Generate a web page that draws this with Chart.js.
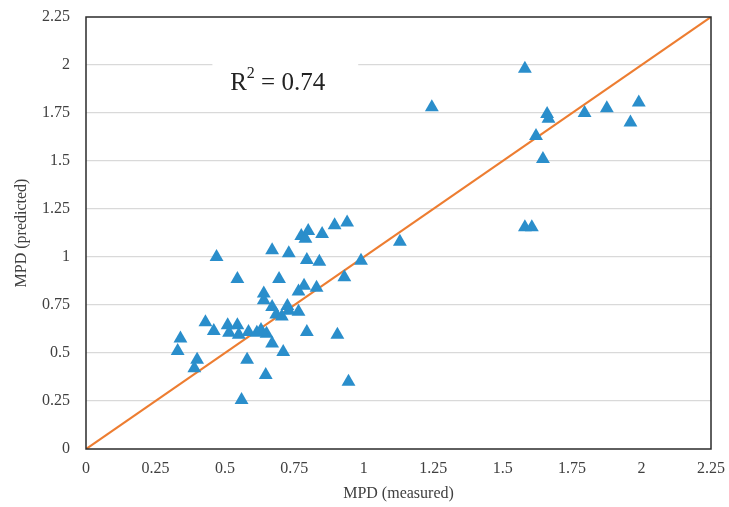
<!DOCTYPE html>
<html>
<head>
<meta charset="utf-8">
<script src="https://cdn.jsdelivr.net/npm/chart.js@4/dist/chart.umd.min.js"></script>
<style>
    html, body { margin: 0; padding: 0; background: #fff; }
    #wrap { width: 729px; height: 507px; }
</style>
</head>
<body>
<div id="wrap"><canvas id="mpdChart"></canvas></div>
<script>
/* ============================================
   DATA
============================================ */
const measured = [
    1.58, 1.245, 1.66, 1.665, 1.62, 1.645, 1.795, 1.875, 1.99, 1.96,
    1.58, 1.605, 1.13, 0.99, 0.94, 0.895, 0.93, 0.905, 0.945, 0.85,
    0.80, 0.775, 0.79, 0.67, 0.73, 0.795, 0.84, 0.695, 0.785, 0.83,
    0.765, 0.64, 0.64, 0.725, 0.67, 0.685, 0.73, 0.765, 0.705, 0.795,
    0.65, 0.67, 0.71, 0.647, 0.47, 0.545, 0.43, 0.46, 0.51, 0.545,
    0.515, 0.55, 0.585, 0.615, 0.63, 0.34, 0.33, 0.40, 0.39, 0.58,
    0.56
];
const predicted = [
    1.98, 1.78, 1.745, 1.72, 1.63, 1.51, 1.75, 1.775, 1.805, 1.70,
    1.155, 1.155, 1.08, 0.98, 1.18, 1.165, 0.895, 0.595, 0.35, 1.12,
    1.135, 1.11, 1.095, 1.035, 1.02, 0.985, 0.975, 0.885, 0.85, 0.84,
    0.82, 0.81, 0.775, 0.745, 0.74, 0.70, 0.72, 0.715, 0.69, 0.61,
    0.60, 0.55, 0.505, 0.385, 1.0, 0.885, 0.66, 0.615, 0.645, 0.645,
    0.605, 0.595, 0.61, 0.605, 0.62, 0.575, 0.51, 0.465, 0.42, 0.465,
    0.255
];
const lineOfEquality = [0, 2.25];
const tickValues = [0, 0.25, 0.5, 0.75, 1, 1.25, 1.5, 1.75, 2, 2.25];
const tickLabels = ['0', '0.25', '0.5', '0.75', '1', '1.25', '1.5', '1.75', '2', '2.25'];
const r2Text = { base: 'R', sup: '2', rest: ' = 0.74', x: 0.69, y: 1.92 };

/* ============================================
   PLUGINS
============================================ */
const serif = "'Liberation Serif', 'Times New Roman', serif";
const textColor = '#404040';

const plotBox = {
    id: 'plotBox',
    afterDatasetsDraw(chart) {
        const { ctx, chartArea: a } = chart;
        ctx.save();
        ctx.strokeStyle = '#2b2b2b';
        ctx.lineWidth = 1.5;
        ctx.strokeRect(a.left, a.top, a.right - a.left, a.bottom - a.top);
        ctx.restore();
    }
};

const r2Label = {
    id: 'r2Label',
    beforeDatasetsDraw(chart) {
        const { ctx, scales: { x, y } } = chart;
        const cx = x.getPixelForValue(r2Text.x);
        const cy = y.getPixelForValue(r2Text.y);
        ctx.save();
        ctx.font = '25px ' + serif;
        const wBase = ctx.measureText(r2Text.base).width;
        const wRest = ctx.measureText(r2Text.rest).width;
        ctx.font = '16px ' + serif;
        const wSup = ctx.measureText(r2Text.sup).width;
        const total = wBase + wSup + wRest;
        // white label box hiding the gridline
        ctx.fillStyle = '#fff';
        ctx.fillRect(x.getPixelForValue(0.455), cy - 26, x.getPixelForValue(0.98) - x.getPixelForValue(0.455), 48);
        let px = cx - total / 2;
        ctx.fillStyle = '#222';
        ctx.textBaseline = 'alphabetic';
        ctx.textAlign = 'left';
        ctx.font = '25px ' + serif;
        ctx.fillText(r2Text.base, px, cy + 10);
        px += wBase;
        ctx.font = '16px ' + serif;
        ctx.fillText(r2Text.sup, px, cy - 2);
        px += wSup;
        ctx.font = '25px ' + serif;
        ctx.fillText(r2Text.rest, px, cy + 10);
        ctx.restore();
    }
};

/* ============================================
   CHART
============================================ */
function tickLabel(v) {
    const i = tickValues.findIndex(t => Math.abs(t - v) < 1e-6);
    return i >= 0 ? tickLabels[i] : '';
}

function initChart() {
    const canvas = document.getElementById('mpdChart');
    const points = measured.map((m, i) => ({ x: m, y: predicted[i] }));

    new Chart(canvas.getContext('2d'), {
        type: 'scatter',
        data: {
            datasets: [{
                data: points,
                pointStyle: 'triangle',
                pointRadius: 8,
                pointHoverRadius: 8,
                backgroundColor: '#2a8ecb',
                borderColor: '#2a8ecb',
                borderWidth: 0,
                order: 1
            }, {
                type: 'line',
                data: lineOfEquality.map(v => ({ x: v, y: v })),
                borderColor: '#ed7d31',
                borderWidth: 2.2,
                pointRadius: 0,
                fill: false,
                order: 2
            }]
        },
        options: {
            responsive: true,
            maintainAspectRatio: false,
            animation: false,
            layout: { padding: { top: 17, right: 18, left: 0, bottom: 0 } },
            plugins: {
                legend: { display: false },
                tooltip: { enabled: false }
            },
            scales: {
                x: {
                    type: 'linear',
                    min: 0,
                    max: 2.25,
                    afterFit: s => {
                        s.height = 58;
                        s.paddingLeft = 0;
                        s.paddingRight = 0;
                    },
                    afterBuildTicks: s => { s.ticks = tickValues.map(v => ({ value: v })); },
                    grid: { display: false, drawTicks: false },
                    border: { display: false },
                    ticks: {
                        color: textColor,
                        padding: 10,
                        maxRotation: 0,
                        autoSkip: false,
                        font: { family: serif, size: 16 },
                        callback: v => tickLabel(v)
                    },
                    title: {
                        display: true,
                        text: 'MPD (measured)',
                        color: textColor,
                        padding: { top: 6 },
                        font: { family: serif, size: 16 }
                    }
                },
                y: {
                    type: 'linear',
                    min: 0,
                    max: 2.25,
                    afterFit: s => {
                        s.width = 86;
                        s.paddingTop = 0;
                        s.paddingBottom = 0;
                    },
                    afterBuildTicks: s => { s.ticks = tickValues.map(v => ({ value: v })); },
                    grid: {
                        drawTicks: false,
                        color: ctx => (ctx.tick && (ctx.tick.value === 0 || ctx.tick.value === 2.25)) ? 'rgba(0,0,0,0)' : '#d9d9d9',
                        lineWidth: 1.2
                    },
                    border: { display: false },
                    ticks: {
                        color: textColor,
                        padding: 16,
                        autoSkip: false,
                        font: { family: serif, size: 16 },
                        callback: v => tickLabel(v)
                    },
                    title: {
                        display: true,
                        text: 'MPD (predicted)',
                        color: textColor,
                        padding: { top: 12, bottom: 0 },
                        font: { family: serif, size: 16 }
                    }
                }
            }
        },
        plugins: [r2Label, plotBox]
    });
}

document.addEventListener('DOMContentLoaded', initChart);
</script>
</body>
</html>
